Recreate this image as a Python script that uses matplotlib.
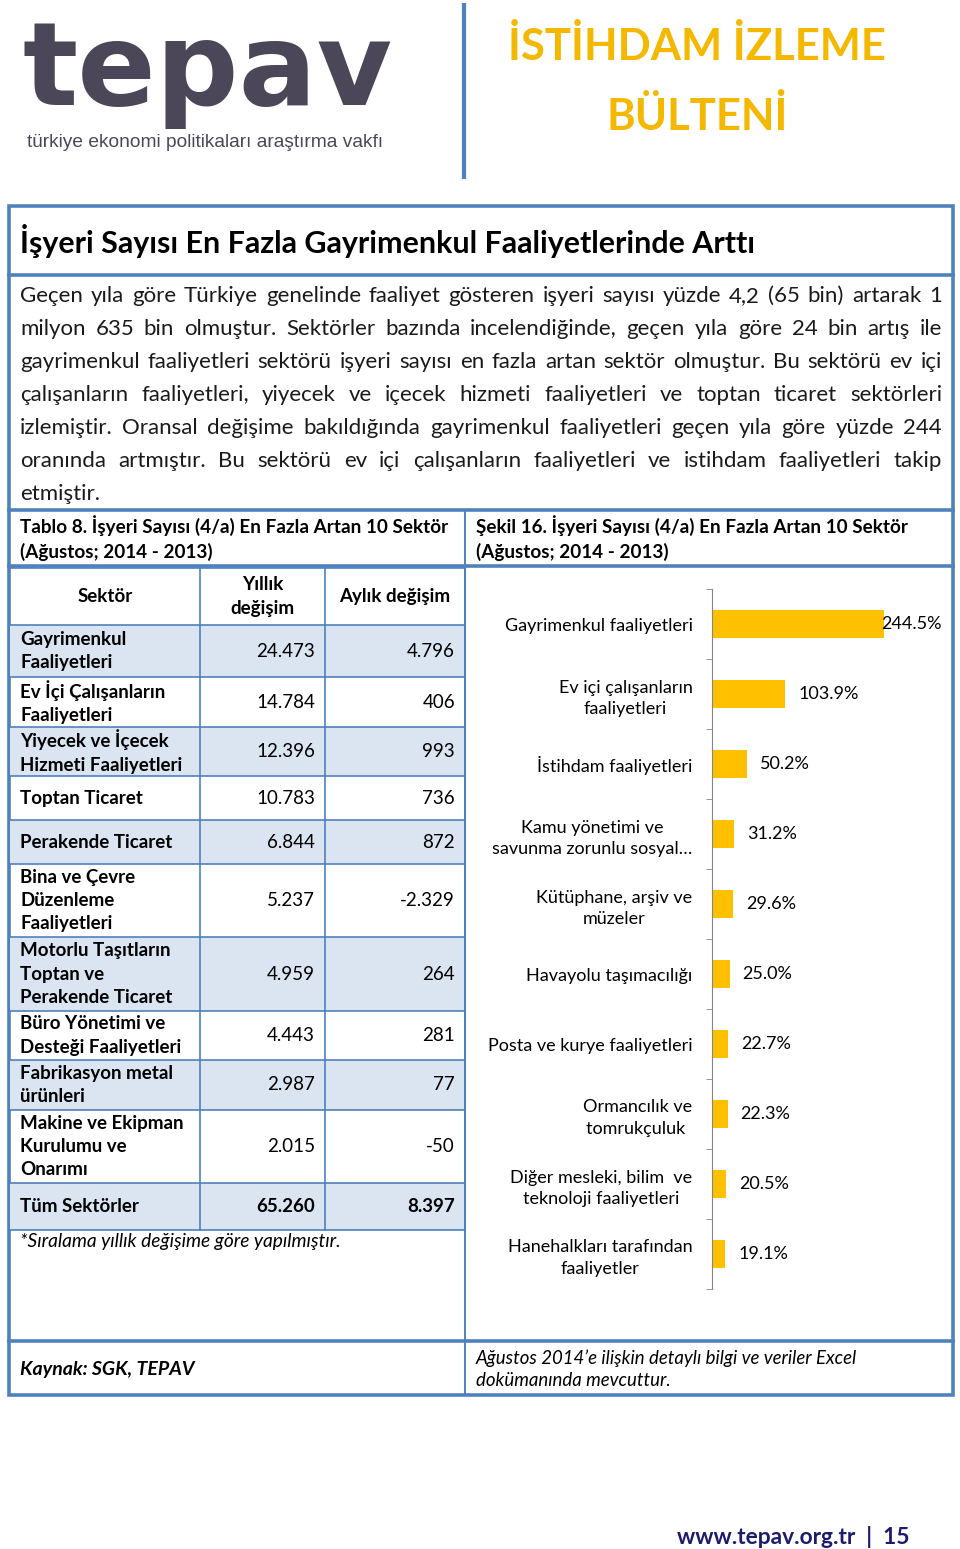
import matplotlib
matplotlib.use('Agg')
import numpy as np
import matplotlib.pyplot as plt
from matplotlib.patches import Rectangle

BLUE = '#4f81bd'
SHADE = '#dbe5f1'
GOLD = '#ffc000'
plt.rcParams['font.family'] = ['Lato', 'DejaVu Sans']

paragraph = [
    "Geçen yıla göre Türkiye genelinde faaliyet gösteren işyeri sayısı yüzde 4,2 (65 bin) artarak 1",
    "milyon 635 bin olmuştur. Sektörler bazında incelendiğinde, geçen yıla göre 24 bin artış ile",
    "gayrimenkul faaliyetleri sektörü işyeri sayısı en fazla artan sektör olmuştur. Bu sektörü ev içi",
    "çalışanların faaliyetleri, yiyecek ve içecek hizmeti faaliyetleri ve toptan ticaret sektörleri",
    "izlemiştir. Oransal değişime bakıldığında gayrimenkul faaliyetleri geçen yıla göre yüzde 244",
    "oranında artmıştır. Bu sektörü ev içi çalışanların faaliyetleri ve istihdam faaliyetleri takip",
    "etmiştir.",
]

# Tablo 8
sectors = ["Gayrimenkul\nFaaliyetleri", "Ev İçi Çalışanların\nFaaliyetleri",
           "Yiyecek ve İçecek\nHizmeti Faaliyetleri", "Toptan Ticaret", "Perakende Ticaret",
           "Bina ve Çevre\nDüzenleme\nFaaliyetleri", "Motorlu Taşıtların\nToptan ve\nPerakende Ticaret",
           "Büro Yönetimi ve\nDesteği Faaliyetleri", "Fabrikasyon metal\nürünleri",
           "Makine ve Ekipman\nKurulumu ve\nOnarımı"]
yillik = ["24.473", "14.784", "12.396", "10.783", "6.844", "5.237", "4.959", "4.443", "2.987", "2.015"]
aylik = ["4.796", "406", "993", "736", "872", "-2.329", "264", "281", "77", "-50"]
total = ["Tüm Sektörler", "65.260", "8.397"]
headers = ["Sektör", "Yıllık\ndeğişim", "Aylık değişim"]

# Şekil 16
cats = ["Gayrimenkul faaliyetleri", "Ev içi çalışanların\nfaaliyetleri", "İstihdam faaliyetleri",
        "Kamu yönetimi ve\nsavunma zorunlu sosyal…", "Kütüphane, arşiv ve\nmüzeler",
        "Havayolu taşımacılığı", "Posta ve kurye faaliyetleri", "Ormancılık ve\ntomrukçuluk ",
        "Diğer mesleki, bilim  ve\nteknoloji faaliyetleri", "Hanehalkları tarafından\nfaaliyetler"]
vals = [244.5, 103.9, 50.2, 31.2, 29.6, 25.0, 22.7, 22.3, 20.5, 19.1]

fig = plt.figure(figsize=(9.6, 15.49), dpi=100)
bg = fig.add_axes([0, 0, 1, 1])
bg.set_xlim(0, 960)
bg.set_ylim(1549, 0)
bg.axis('off')
r = fig.canvas.get_renderer()


def fit(t, width):
    w = t.get_window_extent(r).width
    t.set_fontsize(t.get_fontsize() * width / w)
    return t


def justify(line, x0, x1, y, last=False, **kw):
    words = line.split()
    texts = [bg.text(0, y, w, va='baseline', ha='left', **kw) for w in words]
    widths = [t.get_window_extent(r).width for t in texts]
    if last or len(words) == 1:
        gap = 5
    else:
        gap = (x1 - x0 - sum(widths)) / (len(words) - 1)
    x = x0
    for t, w in zip(texts, widths):
        t.set_x(x)
        x += w + gap


# header
fit(bg.text(22, 105, 'tepav', fontsize=80, fontweight='bold', color='#4b4759',
            family='DejaVu Sans', va='baseline'), 370)
fit(bg.text(27, 147, 'türkiye ekonomi politikaları araştırma vakfı', fontsize=12,
            color='#4b4759', family='Liberation Sans', va='baseline'), 360)
bg.plot([464, 464], [5, 177], color=BLUE, lw=3)
h1 = fit(bg.text(697, 60, 'İSTİHDAM İZLEME', fontsize=30, fontweight='bold', color='#f5b800',
                 ha='center', va='baseline'), 379)
bg.text(697, 130, 'BÜLTENİ', fontsize=h1.get_fontsize(), fontweight='bold', color='#f5b800',
        ha='center', va='baseline')

# frame
bg.add_patch(Rectangle((9, 206), 944, 1189, fill=False, ec=BLUE, lw=2.6))
for yy in [275, 510, 566, 1341]:
    bg.plot([9, 953], [yy, yy], color=BLUE, lw=2.6)
bg.plot([465, 465], [510, 1395], color=BLUE, lw=1.4)

fit(bg.text(20, 253, 'İşyeri Sayısı En Fazla Gayrimenkul Faaliyetlerinde Arttı', fontsize=18,
            fontweight='bold', va='baseline'), 737)

for i, line in enumerate(paragraph):
    justify(line, 20, 942, 302 + 33 * i, last=(i == len(paragraph) - 1), fontsize=16, color='#1a1a1a')

# captions
c1 = fit(bg.text(20, 533, 'Tablo 8. İşyeri Sayısı (4/a) En Fazla Artan 10 Sektör', fontsize=12,
                 fontweight='bold', va='baseline'), 425)
bg.text(20, 558, '(Ağustos; 2014 - 2013)', fontweight='bold', va='baseline', fontsize=c1.get_fontsize())
bg.text(476, 533, 'Şekil 16. İşyeri Sayısı (4/a) En Fazla Artan 10 Sektör', fontsize=c1.get_fontsize(),
        fontweight='bold', va='baseline')
bg.text(476, 558, '(Ağustos; 2014 - 2013)', fontweight='bold', va='baseline', fontsize=c1.get_fontsize())

# table
edges = [568, 625, 677, 727, 776, 820, 864, 937, 1011, 1060, 1110, 1183, 1230]
cols = [10, 200, 325, 465]
fs = 13.5
rows = list(zip(sectors, yillik, aylik)) + [tuple(total)]
for i, (s, a, m) in enumerate(rows):
    y0, y1 = edges[i + 1], edges[i + 2]
    if i % 2 == 0:
        bg.add_patch(Rectangle((cols[0], y0), cols[3] - cols[0], y1 - y0, color=SHADE, lw=0))
    yc = (y0 + y1) / 2
    wt = 'bold' if i == len(rows) - 1 else 'normal'
    bg.text(20, yc, s, fontsize=fs, fontweight='bold', va='center', linespacing=1.45)
    bg.text(315, yc, a, fontsize=fs, fontweight=wt, va='center', ha='right')
    bg.text(455, yc, m, fontsize=fs, fontweight=wt, va='center', ha='right')
for yy in edges:
    bg.plot([cols[0], cols[3]], [yy, yy], color=BLUE, lw=1.2)
for xx in cols[1:]:
    bg.plot([xx, xx], [edges[0], edges[-1]], color=BLUE, lw=1.2)
hy = (edges[0] + edges[1]) / 2
for h, x0, x1 in zip(headers, cols[:-1], cols[1:]):
    bg.text((x0 + x1) / 2, hy, h, fontsize=fs, fontweight='bold', ha='center', va='center',
            linespacing=1.45)
bg.text(20, 1241, '*Sıralama yıllık değişime göre yapılmıştır.', fontsize=13.8, style='italic',
        va='center')

# footer of box
bg.text(20, 1369, 'Kaynak: SGK, TEPAV', fontsize=14, style='italic', fontweight='bold', va='center')
bg.text(476, 1369, 'Ağustos 2014’e ilişkin detaylı bilgi ve veriler Excel\ndokümanında mevcuttur.',
        fontsize=13.4, style='italic', va='center', linespacing=1.4)

# page footer
fit(bg.text(677, 1544, 'www.tepav.org.tr  |  15', fontsize=14, fontweight='bold', color='#1c1c6c',
            va='baseline'), 235)

# chart
ax = fig.add_axes([712 / 960, 1 - 1289 / 1549, 211 / 960, 700 / 1549])
ax.barh(range(len(vals)), vals, height=0.4, color=GOLD)
ax.set_xlim(0, 300)
ax.set_ylim(len(vals) - 0.5, -0.5)
ax.patch.set_alpha(0)
for s in ['top', 'right', 'bottom']:
    ax.spines[s].set_visible(False)
ax.spines['left'].set_color('#868686')
ax.set_xticks([])
ax.set_yticks(range(len(cats)))
ax.set_yticklabels(cats, fontsize=13, multialignment='center', linespacing=1.45)
ax.tick_params(axis='y', which='major', length=0, pad=14)
ax.set_yticks(np.arange(-0.5, len(cats)), minor=True)
ax.tick_params(axis='y', which='minor', length=4, color='#868686', direction='out')
for i, v in enumerate(vals):
    ax.text(min(v + 18.5, 240), i, f'{v:.1f}%', fontsize=13, va='center', ha='left', clip_on=False)

fig.savefig('out.png', dpi=100)
